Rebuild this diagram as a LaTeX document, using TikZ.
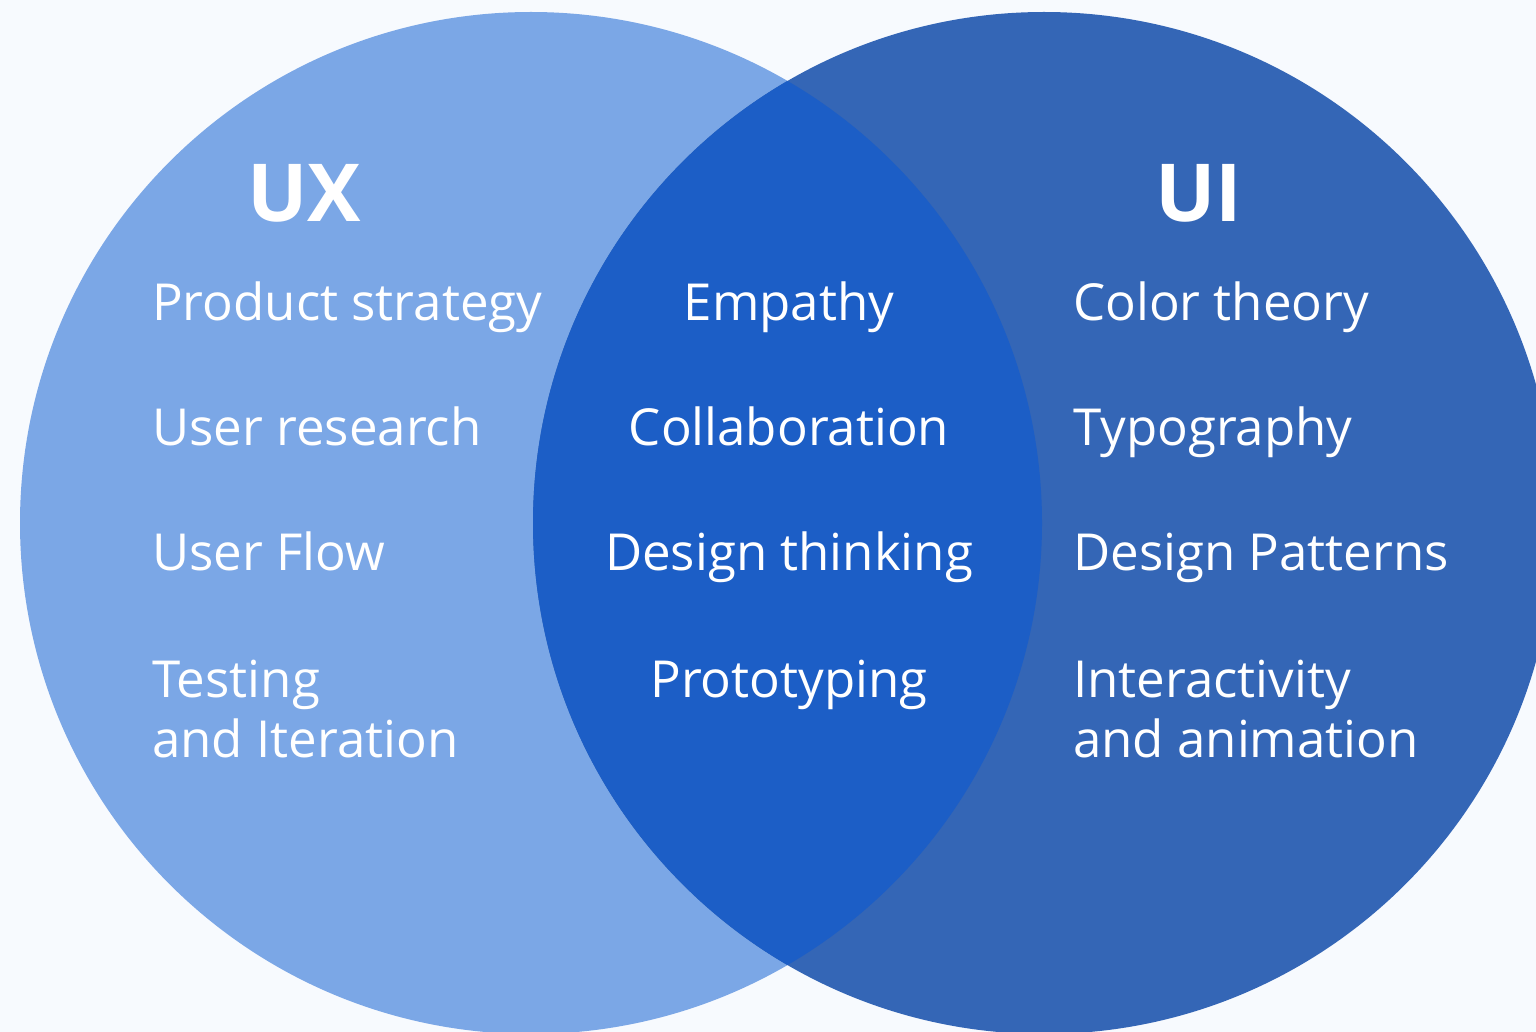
\documentclass[tikz,border=0pt]{standalone}
\usepackage{fontspec}
\setmainfont{Open Sans}
\definecolor{bgc}{HTML}{F7FAFE}
\definecolor{uxc}{HTML}{7BA7E6}
\definecolor{uic}{HTML}{3466B6}
\definecolor{midc}{HTML}{1C5EC6}
\begin{document}
\begin{tikzpicture}[x=1pt,y=-1pt,
  item/.style={anchor=base west,inner sep=0pt,text=white,font=\fontsize{51}{60}\selectfont,align=left},
  citem/.style={anchor=base,inner sep=0pt,text=white,font=\fontsize{51}{60}\selectfont,align=center},
  head/.style={anchor=base west,inner sep=0pt,text=white,font=\fontsize{80}{90}\selectfont\bfseries}]
\useasboundingbox (0,0) rectangle (1536,1032);
\fill[bgc] (0,0) rectangle (1536,1032);
\begin{scope}
\clip (0,0) rectangle (1536,1032);
\fill[uxc] (531,523) circle[radius=511];
\fill[uic] (1044,523) circle[radius=511];
\begin{scope}
\clip (531,523) circle[radius=511];
\fill[midc] (1044,523) circle[radius=511];
\end{scope}
\end{scope}
\node[head] (ux) at (247,222) {UX};
\node[head] (ui) at (1155,222) {UI};
\node[item] (l1) at (152,320) {Product strategy};
\node[item] (l2) at (152,445) {User research};
\node[item] (l3) at (152,570) {User Flow};
\node[item] (l4) at (152,757) {Testing\\and Iteration};
\node[citem] (m1) at (789,320) {Empathy};
\node[citem] (m2) at (789,445) {Collaboration};
\node[citem] (m3) at (789,570) {Design thinking};
\node[citem] (m4) at (789,697) {Prototyping};
\node[item] (r1) at (1073,320) {Color theory};
\node[item] (r2) at (1073,445) {Typography};
\node[item] (r3) at (1073,570) {Design Patterns};
\node[item] (r4) at (1073,757) {Interactivity\\and animation};
\end{tikzpicture}
\end{document}
